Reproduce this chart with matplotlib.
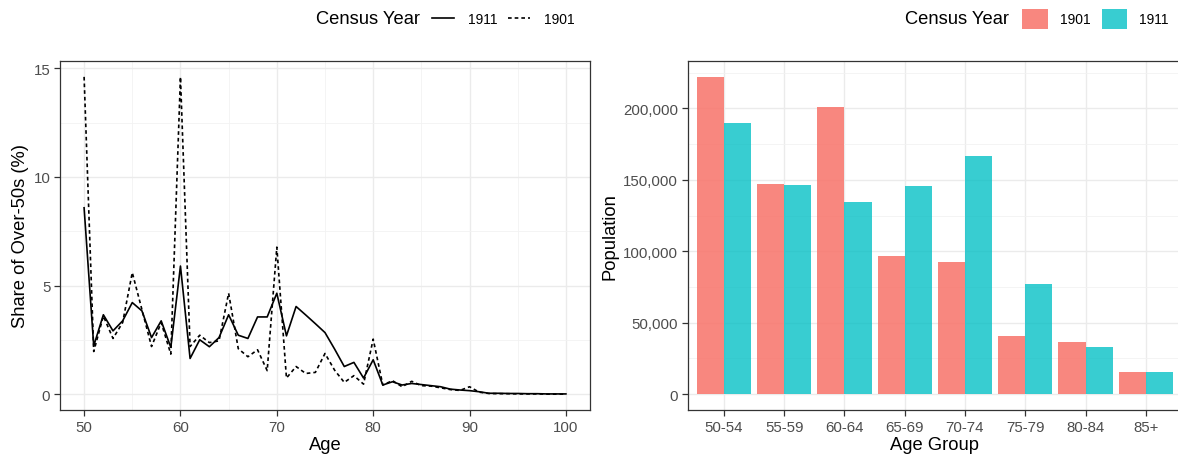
import matplotlib
matplotlib.use("Agg")
import matplotlib.pyplot as plt
import numpy as np
from matplotlib.lines import Line2D
from matplotlib.patches import Patch
from matplotlib.ticker import FuncFormatter, MultipleLocator

plt.rcParams['font.family'] = ['Liberation Sans', 'DejaVu Sans']

# share of over-50s by single year of age (%)
ages = list(range(50, 101))
share_1911 = [8.58, 2.23, 3.66, 2.92, 3.38, 4.22, 3.84, 2.61, 3.38, 2.16,
              5.90, 1.65, 2.51, 2.19, 2.61, 3.66, 2.72, 2.57, 3.56, 3.56,
              4.65, 2.69, 4.04, 3.65, 3.25, 2.84, 2.08, 1.28, 1.47, 0.75,
              1.59, 0.43, 0.58, 0.43, 0.50, 0.45, 0.40, 0.35, 0.24, 0.20,
              0.17, 0.12, 0.05, 0.05, 0.04, 0.04, 0.03, 0.03, 0.02, 0.02,
              0.02]
share_1901 = [14.60, 1.97, 3.60, 2.57, 3.30, 5.60, 3.90, 2.20, 3.30, 1.85,
              14.60, 2.20, 2.72, 2.38, 2.46, 4.65, 2.10, 1.73, 2.05, 1.09,
              6.77, 0.75, 1.28, 0.96, 1.01, 1.88, 1.11, 0.55, 0.86, 0.47,
              2.54, 0.43, 0.63, 0.35, 0.60, 0.40, 0.38, 0.30, 0.22, 0.18,
              0.35, 0.10, 0.04, 0.03, 0.03, 0.02, 0.02, 0.02, 0.01, 0.01,
              0.01]

# population by five-year age group
age_groups = ["50-54", "55-59", "60-64", "65-69", "70-74", "75-79", "80-84", "85+"]
pop_1901 = [222100, 147000, 201200, 97000, 92400, 41000, 36300, 15600]
pop_1911 = [190000, 146300, 134400, 145800, 166800, 76800, 32800, 15600]

red = "#F8766D"
teal = "#00BFC4"
grid_major = "#EBEBEB"
grid_minor = "#F2F2F2"
frame = "#333333"
ticktxt = "#4D4D4D"

fig = plt.figure(figsize=(11.78, 4.56), dpi=100)
ax1 = fig.add_axes([60 / 1178, 45 / 456, 530 / 1178, 349 / 456])
ax2 = fig.add_axes([687.7 / 1178, 45 / 456, 494.3 / 1178, 349 / 456])


def style(ax):
    ax.set_facecolor("white")
    for s in ax.spines.values():
        s.set_color(frame)
        s.set_linewidth(0.9)
    ax.tick_params(which="major", length=4, width=0.9, color=frame,
                   labelcolor=ticktxt, labelsize=10.8, pad=3)
    ax.tick_params(which="minor", length=0)
    ax.grid(which="major", color=grid_major, linewidth=1.0)
    ax.grid(which="minor", color=grid_minor, linewidth=0.6)
    ax.set_axisbelow(True)


# left: line chart
style(ax1)
ax1.plot(ages, share_1911, color="black", lw=1.2, ls="-")
ax1.plot(ages, share_1901, color="black", lw=1.2, ls=(0, (2.2, 1.8)))
lo = min(min(share_1911), min(share_1901))
hi = max(max(share_1911), max(share_1901))
ax1.set_xlim(47.5, 102.5)
ax1.set_ylim(lo - 0.05 * (hi - lo), hi + 0.05 * (hi - lo))
ax1.xaxis.set_major_locator(MultipleLocator(10))
ax1.xaxis.set_minor_locator(MultipleLocator(5))
ax1.yaxis.set_major_locator(MultipleLocator(5))
ax1.yaxis.set_minor_locator(MultipleLocator(2.5))
ax1.set_xlabel("Age", fontsize=13.2, labelpad=2)
ax1.set_ylabel("Share of Over-50s (%)", fontsize=13.2, labelpad=3)

# right: dodged bars
style(ax2)
x = np.arange(1, len(age_groups) + 1)
ax2.bar(x - 0.225, pop_1901, width=0.45, color=red, alpha=0.88, lw=0)
ax2.bar(x + 0.225, pop_1911, width=0.45, color=teal, alpha=0.78, lw=0)
ax2.set_xlim(0.4, len(age_groups) + 0.6)
top = max(max(pop_1901), max(pop_1911))
ax2.set_ylim(-0.05 * top, 1.05 * top)
ax2.set_xticks(x)
ax2.set_xticklabels(age_groups)
ax2.yaxis.set_major_locator(MultipleLocator(50000))
ax2.yaxis.set_minor_locator(MultipleLocator(25000))
ax2.yaxis.set_major_formatter(FuncFormatter(lambda v, p: f"{int(v):,}"))
ax2.set_xlabel("Age Group", fontsize=13.2, labelpad=2)
ax2.set_ylabel("Population", fontsize=13.2, labelpad=3)

# legends on top
ly = 1 - 20 / 456
fig.text(316 / 1178, ly, "Census Year", fontsize=13.2, va="center", ha="left")
h1 = [Line2D([], [], color="black", lw=1.2, ls="-"),
      Line2D([], [], color="black", lw=1.2, ls=(0, (2.2, 1.8)))]
fig.legend(h1, ["1911", "1901"], loc="center left", bbox_to_anchor=(432 / 1178, ly),
           ncol=2, frameon=False, fontsize=10, handlelength=1.6, handletextpad=1.0,
           columnspacing=0.75, borderpad=0, borderaxespad=0)

fig.text(905 / 1178, ly, "Census Year", fontsize=13.2, va="center", ha="left")
h2 = [Patch(facecolor=red, alpha=0.88, lw=0), Patch(facecolor=teal, alpha=0.78, lw=0)]
fig.legend(h2, ["1901", "1911"], loc="center left", bbox_to_anchor=(1022 / 1178, ly),
           ncol=2, frameon=False, fontsize=10, handlelength=1.87, handleheight=1.8,
           handletextpad=0.85, columnspacing=0.8, borderpad=0, borderaxespad=0)

fig.savefig("out.png", dpi=100)
